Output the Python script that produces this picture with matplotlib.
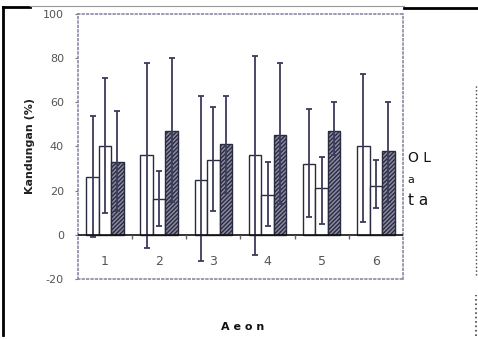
import numpy as np
import matplotlib
matplotlib.use('Agg')
import matplotlib.pyplot as plt
from matplotlib.lines import Line2D

# values
groups = ['1', '2', '3', '4', '5', '6']
s1_mean = [26, 36, 25, 36, 32, 40]
s1_low = [-1, -6, -12, -9, 8, 6]
s1_high = [54, 78, 63, 81, 57, 73]
s2_mean = [40, 16, 34, 18, 21, 22]
s2_low = [10, 4, 11, 4, 5, 12]
s2_high = [71, 29, 58, 33, 35, 34]
s3_mean = [33, 47, 41, 45, 47, 38]
s3_low = [11, 15, 19, 14, 36, 15]
s3_high = [56, 80, 63, 78, 60, 60]
yticks = [-20, 0, 20, 40, 60, 80, 100]

fig = plt.figure(figsize=(4.78, 3.39), dpi=100)
ax = fig.add_axes([0.163, 0.177, 0.680, 0.782])

x = np.arange(1, len(groups) + 1)
w = 0.23
err_col = '#3c3c5c'

series = [
    (s1_mean, s1_low, s1_high, -w, 'white', None),
    (s2_mean, s2_low, s2_high, 0, 'white', None),
    (s3_mean, s3_low, s3_high, w, '#8a8aa0', '////////'),
]
for mean, low, high, off, fc, hatch in series:
    mean = np.array(mean)
    yerr = [mean - np.array(low), np.array(high) - mean]
    ax.bar(x + off, mean, width=w, facecolor=fc, edgecolor='#2a2a40',
           linewidth=1.0, hatch=hatch, zorder=2)
    ax.errorbar(x + off, mean, yerr=yerr, fmt='none', ecolor=err_col,
                elinewidth=1.3, capsize=2, capthick=1.3, zorder=3)

ax.axhline(0, color='#111111', linewidth=1.2, zorder=4)
# little marks on the zero line between groups
ax.plot(x[:-1] + 0.5, np.zeros(len(x) - 1) - 1.2, linestyle='none', marker='|',
        markersize=3, color='#666666', zorder=4)

ax.set_xlim(0.5, 6.5)
ax.set_ylim(-20, 100)
ax.set_yticks(yticks)
ax.set_yticklabels([str(t) for t in yticks], fontsize=8, color='#555555')
ax.tick_params(axis='y', length=2, color='#777777', pad=8)
ax.set_xticks([])
for xi, g in zip(x, groups):
    ax.text(xi, -12, g, ha='center', va='center', fontsize=9, color='#555555')

for sp in ax.spines.values():
    sp.set_linestyle(':')
    sp.set_color('#8a8aa8')
    sp.set_linewidth(1.2)

ax.set_ylabel('Kandungan (%)', fontsize=8, fontweight='bold', color='#222222',
              labelpad=6)

fig.text(0.508, 0.035, 'A e o n', ha='center', va='center', fontsize=8,
         fontweight='bold', color='#111111')
fig.text(0.853, 0.535, 'O L', ha='left', va='center', fontsize=10, color='#111111')
fig.text(0.853, 0.470, 'a', ha='left', va='center', fontsize=8, color='#111111')
fig.text(0.853, 0.408, 't a', ha='left', va='center', fontsize=11, color='#111111')

# frame lines of the scanned page
fig.add_artist(Line2D([0.007, 0.007], [0.012, 0.979], color='black', linewidth=2.0,
                      transform=fig.transFigure))
fig.add_artist(Line2D([0.007, 0.063], [0.979, 0.979], color='black', linewidth=2.0,
                      transform=fig.transFigure))
fig.add_artist(Line2D([0.063, 0.845], [0.982, 0.982], color='#999999', linewidth=0.8,
                      transform=fig.transFigure))
fig.add_artist(Line2D([0.845, 1.0], [0.976, 0.976], color='black', linewidth=2.0,
                      transform=fig.transFigure))
fig.add_artist(Line2D([0.996, 0.996], [0.19, 0.75], color='#444444', linewidth=1.0,
                      linestyle=':', transform=fig.transFigure))
fig.add_artist(Line2D([0.996, 0.996], [0.01, 0.13], color='#444444', linewidth=1.2,
                      linestyle=':', transform=fig.transFigure))

fig.savefig('out.png', dpi=100)
